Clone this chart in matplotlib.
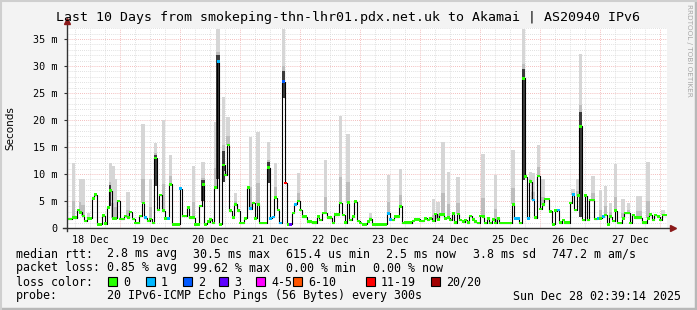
import matplotlib
matplotlib.use('Agg')
import matplotlib.pyplot as plt
import matplotlib.dates as mdates
from datetime import datetime, timedelta
import numpy as np

# median rtt (ms), one value per hour from 18 Dec 02:39:14
median = [1.7, 1.7, 1.9, 1.9, 3.3, 2.9, 2.2, 1.3, 1.8, 1.8, 5.5, 6.2, 0.7, 0.7, 2.3, 0.8, 3.8, 6.9, 1.8, 1.8,
          5.0, 1.7, 1.7, 2.2, 1.9, 3.0, 1.7, 0.9, 0.9, 2.2, 4.6, 1.9, 1.3, 1.7, 0.9, 13.0, 3.3, 6.1, 3.2, 1.8,
          1.8, 8.1, 0.7, 0.7, 0.7, 7.3, 2.2, 2.2, 3.8, 1.9, 1.9, 0.7, 0.7, 4.1, 8.1, 0.7, 1.2, 1.6, 0.9, 7.5,
          30.8, 0.7, 11.7, 9.8, 15.4, 3.2, 1.9, 4.4, 3.2, 0.9, 0.9, 1.8, 7.5, 3.6, 4.6, 1.8, 4.4, 0.9, 0.9, 0.9,
          11.2, 1.8, 2.0, 5.6, 3.3, 0.9, 27.1, 8.3, 0.7, 0.7, 2.8, 4.4, 5.0, 3.3, 2.1, 2.1, 1.2, 1.2, 1.0, 1.0,
          2.1, 1.5, 2.8, 2.8, 1.9, 1.9, 0.9, 2.5, 2.5, 4.6, 2.4, 1.0, 4.7, 1.5, 2.1, 4.9, 1.3, 0.9, 0.7, 0.7,
          1.2, 1.6, 0.7, 0.7, 0.7, 0.7, 0.7, 0.7, 2.7, 1.6, 1.5, 2.1, 2.1, 4.0, 0.9, 1.0, 1.0, 1.0, 1.3, 1.6,
          1.6, 1.3, 1.3, 1.8, 1.5, 1.8, 1.3, 2.6, 1.6, 2.5, 2.5, 1.8, 1.9, 1.5, 2.7, 1.0, 2.6, 1.5, 1.2, 1.5,
          1.0, 2.2, 1.6, 1.2, 0.9, 2.2, 2.1, 0.9, 1.8, 0.9, 1.6, 0.9, 1.8, 0.9, 0.9, 0.9, 0.9, 0.9, 4.4, 1.8,
          1.8, 0.9, 27.7, 9.5, 1.8, 8.6, 5.2, 1.9, 9.6, 3.5, 4.3, 5.4, 5.4, 3.1, 0.7, 3.2, 3.3, 1.0, 1.5, 1.0,
          1.0, 4.6, 6.2, 3.3, 6.0, 18.8, 1.5, 6.0, 1.5, 5.2, 5.2, 1.7, 1.8, 1.8, 2.1, 2.4, 0.7, 2.1, 1.3, 3.2,
          0.9, 0.9, 1.8, 2.8, 2.8, 0.9, 2.4, 1.9, 1.9, 1.9, 1.0, 1.0, 1.8, 2.5, 1.5, 2.4, 2.1, 1.5, 2.4, 2.4]

# top of the smoke (slowest ping) for the hours where it shows, ms
smoke_top = {2: 12.0, 5: 9.0, 6: 9.0, 8: 2.7, 17: 12.1, 18: 11.4, 19: 9.0, 24: 6.7, 30: 19.3, 33: 9.1,
             35: 15.7, 38: 20.0, 41: 13.5, 50: 11.4, 54: 12.2, 59: 19.7, 60: 36.8, 62: 24.2, 63: 10.5,
             64: 20.6, 67: 6.5, 73: 16.9, 76: 17.8, 80: 16.0, 83: 12.1, 86: 36.8, 92: 10.1, 103: 12.6,
             109: 20.7, 112: 17.5, 121: 2.8, 128: 9.8, 133: 11.0, 146: 5.3, 148: 4.9, 150: 16.0, 152: 10.4,
             156: 9.5, 166: 13.7, 171: 9.8, 178: 14.4, 182: 36.8, 185: 10.4, 186: 10.1, 188: 15.4, 190: 9.0,
             202: 7.2, 204: 9.0, 205: 32.3, 210: 9.6, 213: 7.0, 215: 7.8, 217: 4.7, 219: 11.9, 222: 5.3,
             224: 4.6, 228: 6.0, 229: 6.0, 232: 12.2, 238: 3.3}

# hours where the dense part of the smoke reaches well below the median
smoke_low = {17: 4.0, 35: 7.7, 54: 5.0, 60: 9.0, 62: 8.5, 80: 8.3, 86: 24.0, 182: 8.9, 205: 2.1}

# packet loss class per hour (0 everywhere else)
loss_class = {31: 1, 40: 1, 45: 1, 60: 1, 73: 1, 81: 1, 82: 1, 85: 1, 86: 2, 87: 6, 89: 3, 91: 1,
              128: 1, 129: 1, 179: 1, 180: 1, 184: 1, 186: 1, 196: 1, 202: 1, 212: 1, 214: 1}

loss_labels = ['0', '1', '2', '3', '4-5', '6-10', '11-19', '20/20']
loss_colors = ['#26ff00', '#00b8ff', '#0059ff', '#5e00ff', '#ff00ff', '#ff5500', '#ff0000', '#a10000']

start = datetime(2025, 12, 18, 2, 39, 14)
end = datetime(2025, 12, 28, 2, 39, 14)
step = timedelta(hours=1)

W, H = 697, 310
fig = plt.figure(figsize=(W / 100, H / 100), dpi=100, facecolor='#f3f3f3')
ax = fig.add_axes([67 / W, 82 / H, 600 / W, 200 / H])
ax.set_facecolor('white')

mono = 'DejaVu Sans Mono'

n = len(median)
med = np.array(median)
edges = mdates.date2num([start + step * i for i in range(n + 1)])
bw = edges[1] - edges[0]
xs = edges[:-1]

# grid
ax.set_xlim(mdates.date2num(start), mdates.date2num(end))
ax.set_ylim(0, 200 / 5.4)
for h in range(41):
    t = datetime(2025, 12, 18) + timedelta(hours=6 * h)
    if t < start or t > end:
        continue
    ax.axvline(mdates.date2num(t), color='#f0a8a8' if t.hour == 0 else '#d6d6d6', lw=0.6,
               ls=(0, (1, 1.5)), zorder=0)
for v in range(1, 38):
    ax.axhline(v, color='#f0a8a8' if v % 5 == 0 else '#d6d6d6', lw=0.6,
               ls=(0, (1, 1.5)), zorder=0)

# smoke
sw = bw * 1.4
for i, top in smoke_top.items():
    m = med[i]
    low = smoke_low.get(i, m)
    x0 = xs[i] + bw / 2
    ax.bar(x0, top - low, bottom=low, width=sw, color='#d6d6d6', lw=0, zorder=1)
    ax.bar(x0, (top - m) * 0.3 + m - low, bottom=low, width=sw, color='#bdbdbd', lw=0, zorder=1)
    if i in smoke_low:
        ax.bar(x0, (top - m) * 0.2 + m - low, bottom=low, width=sw, color='#3c3c3c', lw=0, zorder=1)

# median line and loss markers
ax.step(edges, np.append(med, med[-1]), where='post', color='black', lw=0.8, zorder=3)
cols = [loss_colors[loss_class.get(i, 0)] for i in range(n)]
ax.scatter(xs + bw / 2, med, marker='s', s=3.5, c=cols, linewidths=0, zorder=4)

# axes
for s in ax.spines.values():
    s.set_visible(False)
ax.plot([0, 0], [-0.015, 1.03], transform=ax.transAxes, color='#333333', lw=1, clip_on=False, zorder=5)
ax.plot([-0.007, 1.005], [0, 0], transform=ax.transAxes, color='#333333', lw=1, clip_on=False, zorder=5)
ax.plot([0], [1.035], transform=ax.transAxes, marker='^', ms=4.5, color='#8b1a1a', clip_on=False, zorder=6)
ax.plot([1.01], [0], transform=ax.transAxes, marker='>', ms=4.5, color='#8b1a1a', clip_on=False, zorder=6)

yt = list(range(0, 36, 5))
ax.set_yticks(yt)
ax.set_yticklabels(['0'] + ['%d m' % v for v in yt[1:]], fontfamily=mono, fontsize=7.3)
ax.tick_params(axis='y', length=2, pad=5, color='#333333')
noons = mdates.date2num([datetime(2025, 12, 18 + d, 12) for d in range(10)])
ax.set_xticks(noons)
ax.set_xticklabels(['%d Dec' % (18 + d) for d in range(10)], fontfamily=mono, fontsize=7.3)
ax.tick_params(axis='x', length=0, pad=5)
ax.set_ylabel('Seconds', fontsize=7.5)
ax.yaxis.set_label_coords(-52 / 600, 0.5)


def ftext(px, py, s, **kw):
    kw.setdefault('fontfamily', mono)
    kw.setdefault('fontsize', 8.4)
    kw.setdefault('va', 'center')
    fig.text(px / W, 1 - py / H, s, **kw)


ftext(348.5, 18, 'Last 10 Days from smokeping-thn-lhr01.pdx.net.uk to Akamai | AS20940 IPv6',
      fontsize=9.5, ha='center')
ftext(689, 4, 'RRDTOOL / TOBI OETIKER', fontfamily='DejaVu Sans', fontsize=5.2,
      rotation=270, va='top', ha='center', color='#a8a8a8')

for px, s in [(16, 'median rtt:'), (107.3, '2.8 ms avg'), (193.3, '30.5 ms max'),
              (286, '615.4 us min'), (386, '2.5 ms now'), (472.7, '3.8 ms sd'), (551.7, '747.2 m am/s')]:
    ftext(px, 254, s)
for px, s in [(16, 'packet loss:'), (107.3, '0.85 % avg'), (193.3, '99.62 % max'),
              (286, '0.00 % min'), (372.7, '0.00 % now')]:
    ftext(px, 268, s)
ftext(16, 282, 'loss color:')
sq_x = [108, 146, 183, 219, 256, 293, 366, 431]
for px, lab, c in zip(sq_x, loss_labels, loss_colors):
    fig.patches.append(plt.Rectangle((px / W, 1 - 286 / H), 9 / W, 9 / H, transform=fig.transFigure,
                                     facecolor=c, edgecolor='black', lw=0.8))
    ftext(px + 15, 282, lab)
ftext(16, 296, 'probe:')
ftext(107.3, 296, '20 IPv6-ICMP Echo Pings (56 Bytes) every 300s')
ftext(513.3, 296, 'Sun Dec 28 02:39:14 2025')

# frame
fig.add_artist(plt.Line2D([0, 1], [1 / H, 1 / H], transform=fig.transFigure, color='#b8b8b8', lw=2.5))
fig.add_artist(plt.Line2D([1 - 1 / W, 1 - 1 / W], [0, 1], transform=fig.transFigure, color='#b8b8b8', lw=2.5))
fig.add_artist(plt.Line2D([0, 1], [1 - 1 / H, 1 - 1 / H], transform=fig.transFigure, color='#cfcfcf', lw=1.5))
fig.add_artist(plt.Line2D([1 / W, 1 / W], [0, 1], transform=fig.transFigure, color='#cfcfcf', lw=1.5))

fig.savefig('out.png', dpi=100, facecolor=fig.get_facecolor())
